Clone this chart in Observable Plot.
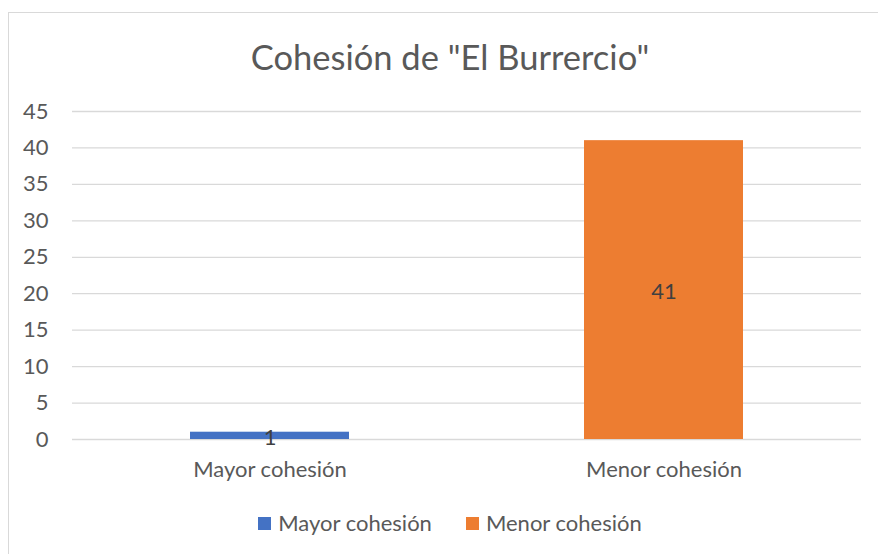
<!DOCTYPE html>
<html>
<head>
<meta charset="utf-8">
<script src="https://cdn.jsdelivr.net/npm/d3@7"></script>
<script src="https://cdn.jsdelivr.net/npm/@observablehq/plot@0.6"></script>
<style>
  html, body { margin: 0; padding: 0; background: #fff; }
  body { width: 878px; height: 554px; position: relative; overflow: hidden; font-family: Lato, "Open Sans", sans-serif; }
  #frame { position: absolute; left: 8px; top: 12px; width: 900px; height: 600px; border-top: 1px solid #d9d9d9; border-left: 1px solid #d9d9d9; box-sizing: border-box; }
  #title { position: absolute; left: 0; width: 900px; top: 35px; text-align: center; font-size: 34.5px; color: #595959; line-height: 44px; white-space: nowrap; }
  #chart { position: absolute; left: 0; top: 0; }
  #legend { position: absolute; top: 510px; left: 0; width: 900px; display: flex; justify-content: center; gap: 34px; font-size: 22px; color: #595959; line-height: 26px; }
  .item { display: flex; align-items: center; }
  .sw { width: 13px; height: 13px; margin-right: 7px; }
</style>
</head>
<body>
<div id="frame"></div>
<div id="title"></div>
<div id="chart"></div>
<div id="legend"></div>
<script>
const titleText = 'Cohesión de "El Burrercio"';
const categories = ["Mayor cohesión", "Menor cohesión"];
const values = [1, 41];
const colors = ["#4472C4", "#ED7D31"];
const yTicks = [0, 5, 10, 15, 20, 25, 30, 35, 40, 45];

const data = categories.map((c, i) => ({category: c, value: values[i]}));

document.getElementById("title").textContent = titleText;

const chart = Plot.plot({
  width: 878,
  height: 554,
  marginLeft: 72,
  marginRight: 17,
  marginTop: 111,
  marginBottom: 115,
  style: {fontFamily: "Lato, 'Open Sans', sans-serif", fontSize: "22px", color: "#595959", background: "transparent"},
  x: {domain: categories, paddingInner: 0.597, paddingOuter: 0.2985, label: null},
  y: {domain: [0, 45], ticks: yTicks, label: null},
  color: {domain: categories, range: colors},
  marks: [
    Plot.gridY(yTicks, {stroke: "#d9d9d9", strokeOpacity: 1, strokeWidth: 1.3}),
    Plot.barY(data, {x: "category", y: "value", fill: "category"}),
    Plot.axisY(yTicks, {tickSize: 0, tickPadding: 24, fontSize: 22, fill: "#595959", textAnchor: "end"}),
    Plot.axisX({tickSize: 0, tickPadding: 22, fontSize: 22, fill: "#595959"}),
    Plot.text(data, {x: "category", y: d => d.value / 2, text: d => String(d.value), fill: "#404040", fontSize: 22, dy: 2})
  ]
});
document.getElementById("chart").appendChild(chart);

const legend = document.getElementById("legend");
categories.forEach((c, i) => {
  const item = document.createElement("div");
  item.className = "item";
  const sw = document.createElement("span");
  sw.className = "sw";
  sw.style.background = colors[i];
  const t = document.createElement("span");
  t.textContent = c;
  item.appendChild(sw);
  item.appendChild(t);
  legend.appendChild(item);
});
</script>
</body>
</html>
